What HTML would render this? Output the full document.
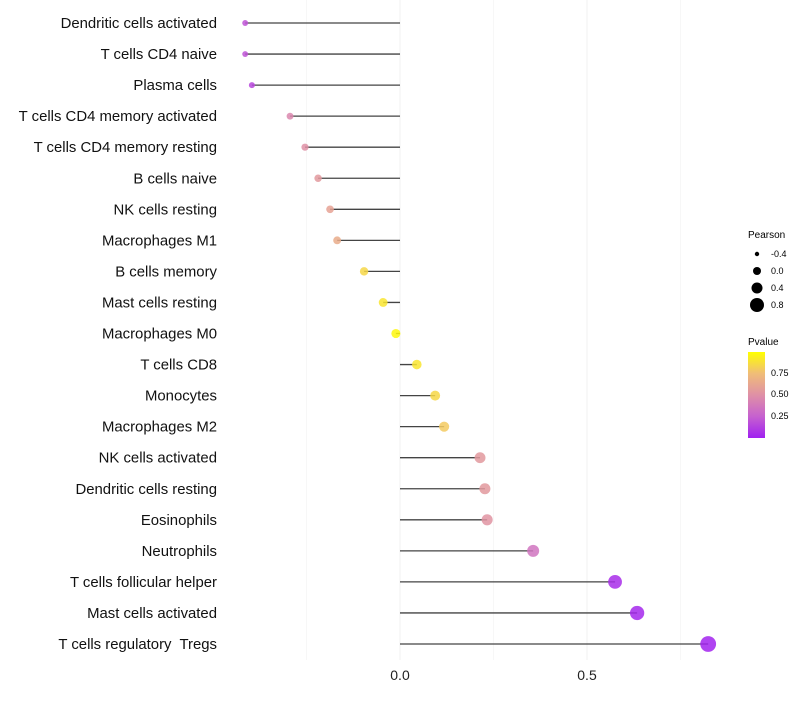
<!DOCTYPE html>
<html><head><meta charset="utf-8"><style>
body{margin:0;background:#fff;font-family:"Liberation Sans",sans-serif;}
text{white-space:pre;}
</style></head><body>
<svg id="chart" width="800" height="700" xmlns="http://www.w3.org/2000/svg">
<defs><linearGradient id="pg" x1="0" y1="1" x2="0" y2="0">
<stop offset="0" stop-color="#a020f0"/><stop offset="0.25" stop-color="#c661cf"/>
<stop offset="0.5" stop-color="#df90a6"/><stop offset="0.75" stop-color="#f0bd78"/>
<stop offset="1" stop-color="#ffff00"/></linearGradient></defs>
<g id="grid"></g><g id="marks"></g><g id="labels"></g>
<g font-size="9" fill="#000">
<text x="748" y="238" font-size="10">Pearson</text>
<circle cx="757" cy="254" r="2.2"/><text x="771" y="257">-0.4</text>
<circle cx="757" cy="271" r="4"/><text x="771" y="274">0.0</text>
<circle cx="757" cy="288" r="5.5"/><text x="771" y="291">0.4</text>
<circle cx="757" cy="305" r="7"/><text x="771" y="308">0.8</text>
<text x="748" y="345" font-size="10">Pvalue</text>
<rect x="748" y="352" width="17" height="86" fill="url(#pg)"/>
<text x="771" y="376">0.75</text><text x="771" y="397">0.50</text><text x="771" y="419">0.25</text>
</g>
</svg>
<script>
const categories=["Dendritic cells activated","T cells CD4 naive","Plasma cells","T cells CD4 memory activated","T cells CD4 memory resting","B cells naive","NK cells resting","Macrophages M1","B cells memory","Mast cells resting","Macrophages M0","T cells CD8","Monocytes","Macrophages M2","NK cells activated","Dendritic cells resting","Eosinophils","Neutrophils","T cells follicular helper","Mast cells activated","T cells regulatory  Tregs"];
const pearson=[-0.414,-0.414,-0.396,-0.294,-0.254,-0.219,-0.187,-0.168,-0.096,-0.045,-0.011,0.045,0.094,0.118,0.214,0.227,0.233,0.356,0.575,0.634,0.824];
const pvalue=[0.2,0.2,0.15,0.45,0.5,0.55,0.6,0.65,0.85,0.9,0.97,0.9,0.85,0.8,0.55,0.55,0.52,0.35,0.05,0.03,0.01];
const xTicks=[0,0.5];
const minorTicks=[-0.25,0.25,0.75];
const NS="http://www.w3.org/2000/svg";
const xs=v=>400+v*374;
const ys=i=>23+i*31.05;
const rs=v=>4.6+4*v;
function col(p){const st=[[0,[160,32,240]],[0.25,[198,97,207]],[0.5,[223,144,166]],[0.75,[240,189,120]],[1,[255,255,0]]];
for(let k=0;k<st.length-1;k++){if(p<=st[k+1][0]){const t=(p-st[k][0])/(st[k+1][0]-st[k][0]);const c=st[k][1].map((a,j)=>Math.round(a+(st[k+1][1][j]-a)*t));return `rgb(${c})`;}}return "rgb(255,255,0)";}
function mk(t,a,p){const e=document.createElementNS(NS,t);for(const k in a)e.setAttribute(k,a[k]);p.appendChild(e);return e;}
const grid=document.getElementById('grid'),marks=document.getElementById('marks'),labels=document.getElementById('labels');
minorTicks.forEach(v=>{const l=mk('line',{x1:xs(v),x2:xs(v),y1:0,y2:660,stroke:'#f7f7f7','stroke-width':1},grid);

});
xTicks.forEach(v=>{const l=mk('line',{x1:xs(v),x2:xs(v),y1:0,y2:660,stroke:'#f0f0f0','stroke-width':1},grid);


const t=mk('text',{x:xs(v),y:680,'text-anchor':'middle','font-size':14,fill:'#222'},labels);t.textContent=v.toFixed(1);

});
categories.forEach((c,i)=>{const y=ys(i);
const t=mk('text',{x:217,y:y+5,'text-anchor':'end','font-size':14.9,fill:'#111'},labels);t.textContent=c;


const l=mk('line',{x1:xs(0),x2:xs(pearson[i]),y1:y,y2:y,stroke:'#444','stroke-width':1.3},marks);


const d=mk('circle',{cx:xs(pearson[i]),cy:y,r:Math.max(1.8,rs(pearson[i])),fill:col(pvalue[i]),'fill-opacity':0.85},marks);

});
</script>
</body></html>
